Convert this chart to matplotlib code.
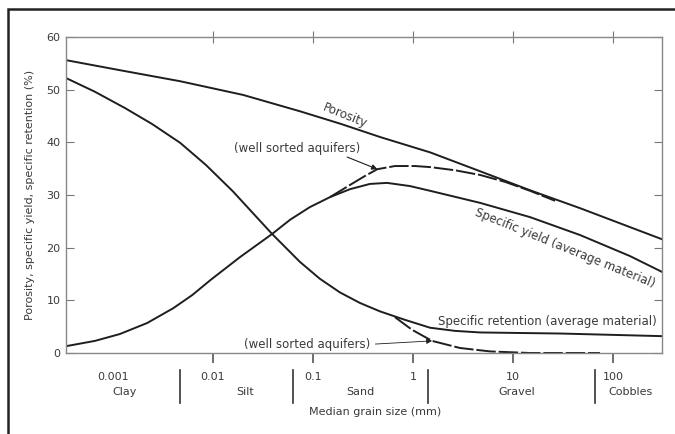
import matplotlib
matplotlib.use("Agg")
import matplotlib.pyplot as plt
from matplotlib.patches import Rectangle
from matplotlib.ticker import NullLocator, FixedLocator

# grain size (mm) and percent values for each curve
porosity_d = [0.00034, 0.00117, 0.0047, 0.02, 0.074, 0.19, 0.47, 1.48, 4.7,
              14.8, 46.8, 148, 309]
porosity_v = [55.6, 53.7, 51.6, 49.0, 45.9, 43.5, 41.0, 38.1, 34.5,
              30.9, 27.5, 23.9, 21.6]

sy_avg_d = [0.00034, 0.00066, 0.00117, 0.0022, 0.004, 0.0062, 0.0095,
            0.0186, 0.039, 0.059, 0.093, 0.148, 0.234, 0.37, 0.55, 0.93,
            1.48, 4.7, 14.8, 46.8, 148, 309]
sy_avg_v = [1.3, 2.3, 3.6, 5.7, 8.5, 11.0, 13.9,
            18.2, 22.6, 25.3, 27.7, 29.6, 31.1, 32.1, 32.3, 31.7,
            30.8, 28.5, 25.8, 22.4, 18.4, 15.4]

sy_well_d = [0.148, 0.234, 0.33, 0.44, 0.66, 1.05, 1.48, 2.63, 4.7, 8.3,
             14.8, 26.3]
sy_well_v = [29.6, 31.9, 33.6, 34.9, 35.5, 35.5, 35.3, 34.7, 33.8, 32.5,
             30.8, 28.9]

sr_avg_d = [0.00034, 0.00066, 0.00132, 0.00245, 0.0047, 0.0085, 0.0158,
            0.039, 0.074, 0.117, 0.186, 0.295, 0.468, 0.83, 1.48, 2.63,
            4.7, 29.5, 309]
sr_avg_v = [52.2, 49.6, 46.5, 43.5, 39.9, 35.7, 30.7,
            22.6, 17.3, 14.1, 11.5, 9.5, 7.9, 6.3, 4.8, 4.2,
            3.9, 3.7, 3.2]

sr_well_d = [0.66, 0.98, 1.55, 2.95, 5.9, 14.8, 74]
sr_well_v = [6.8, 4.4, 2.3, 0.95, 0.3, 0.0, 0.0]

size_ticks = [0.001, 0.01, 0.1, 1, 10, 100]
size_labels = ["0.001", "0.01", "0.1", "1", "10", "100"]
classes = ["Clay", "Silt", "Sand", "Gravel", "Cobbles"]
class_pos = [0.0013, 0.021, 0.3, 11, 148]
class_bounds = [0.0047, 0.063, 1.4, 66]

ink = "#1e1e1e"
txt = "#3a3a3a"
plt.rcParams["font.family"] = ["DejaVu Sans"]
plt.rcParams["font.size"] = 8

fig = plt.figure(figsize=(6.75, 4.34), dpi=100)
fig.patch.set_facecolor("white")
ax = fig.add_axes([66 / 675, 1 - 353 / 434, 596 / 675, 316 / 434])

# frame around the whole figure (only top and left edges fall inside)
fig.add_artist(Rectangle((8 / 675, -0.05), 1.0, 1 - 9 / 434 + 0.05,
                         fill=False, lw=1.8, ec="#222222",
                         transform=fig.transFigure))

ax.set_xscale("log")
ax.set_xlim(10 ** -3.47, 10 ** 2.49)
ax.set_ylim(0, 60)

lw = 1.4
ax.plot(porosity_d, porosity_v, color=ink, lw=lw)
ax.plot(sy_avg_d, sy_avg_v, color=ink, lw=lw)
ax.plot(sr_avg_d, sr_avg_v, color=ink, lw=lw)
ax.plot(sy_well_d, sy_well_v, color=ink, lw=lw, dashes=(10, 1.5))
ax.plot(sr_well_d, sr_well_v, color=ink, lw=lw, dashes=(10, 1.5),
        clip_on=False)

# curve labels
ax.text(0.21, 45.0, "Porosity", rotation=-22, ha="center", va="center",
        color=txt, fontsize=8.5)
ax.text(33, 19.9, "Specific yield (average material)", rotation=-22,
        ha="center", va="center", color=txt, fontsize=8.5)
ax.text(22, 5.9, "Specific retention (average material)", ha="center",
        va="center", color=txt, fontsize=8.5)
ax.text(0.07, 38.9, "(well sorted aquifers)", ha="center", va="center",
        color=txt, fontsize=8.5)
ax.text(0.088, 1.6, "(well sorted aquifers)", ha="center", va="center",
        color=txt, fontsize=8.5)
ax.annotate("", xy=(0.44, 34.9), xytext=(0.22, 37.2),
            arrowprops=dict(arrowstyle="-|>", color=ink, lw=0.8,
                            mutation_scale=8, shrinkA=0, shrinkB=0))
ax.annotate("", xy=(1.55, 2.3), xytext=(0.42, 1.7),
            arrowprops=dict(arrowstyle="-|>", color=ink, lw=0.6,
                            mutation_scale=8, shrinkA=0, shrinkB=0))

# axes styling
for s in ax.spines.values():
    s.set_color("#888888")
    s.set_linewidth(1.0)

ax.set_yticks(range(0, 61, 10))
ax.tick_params(axis="y", direction="in", length=6, left=True, right=True,
               colors="#777777", labelcolor=txt, labelsize=8, pad=4)
ax.xaxis.set_major_locator(FixedLocator(size_ticks[1:]))
ax.xaxis.set_minor_locator(NullLocator())
ax.tick_params(axis="x", direction="out", length=7, top=False,
               labelbottom=False, colors="#555555", width=1.2)
top = ax.secondary_xaxis("top")
top.xaxis.set_major_locator(FixedLocator(size_ticks[1:]))
top.xaxis.set_minor_locator(NullLocator())
top.tick_params(direction="inout", length=8, labeltop=False,
                colors="#777777")
top.spines["top"].set_visible(False)

ax.set_ylabel("Porosity, specific yield, specific retention (%)",
              color=txt, fontsize=8, labelpad=8)

xt = ax.get_xaxis_transform()
for v, lab in zip(size_ticks, size_labels):
    ax.text(v, -0.076, lab, transform=xt, ha="center", va="center",
            color=txt, fontsize=8)
for v, lab in zip(class_pos, classes):
    ax.text(v, -0.123, lab, transform=xt, ha="center", va="center",
            color=txt, fontsize=8)
for b in class_bounds:
    ax.plot([b, b], [-0.054, -0.158], transform=xt, color="#333333",
            lw=1.2, clip_on=False)
ax.text(10 ** -0.38, -0.187, "Median grain size (mm)", transform=xt,
        ha="center", va="center", color=txt, fontsize=8)

fig.savefig("out.png", dpi=100)
